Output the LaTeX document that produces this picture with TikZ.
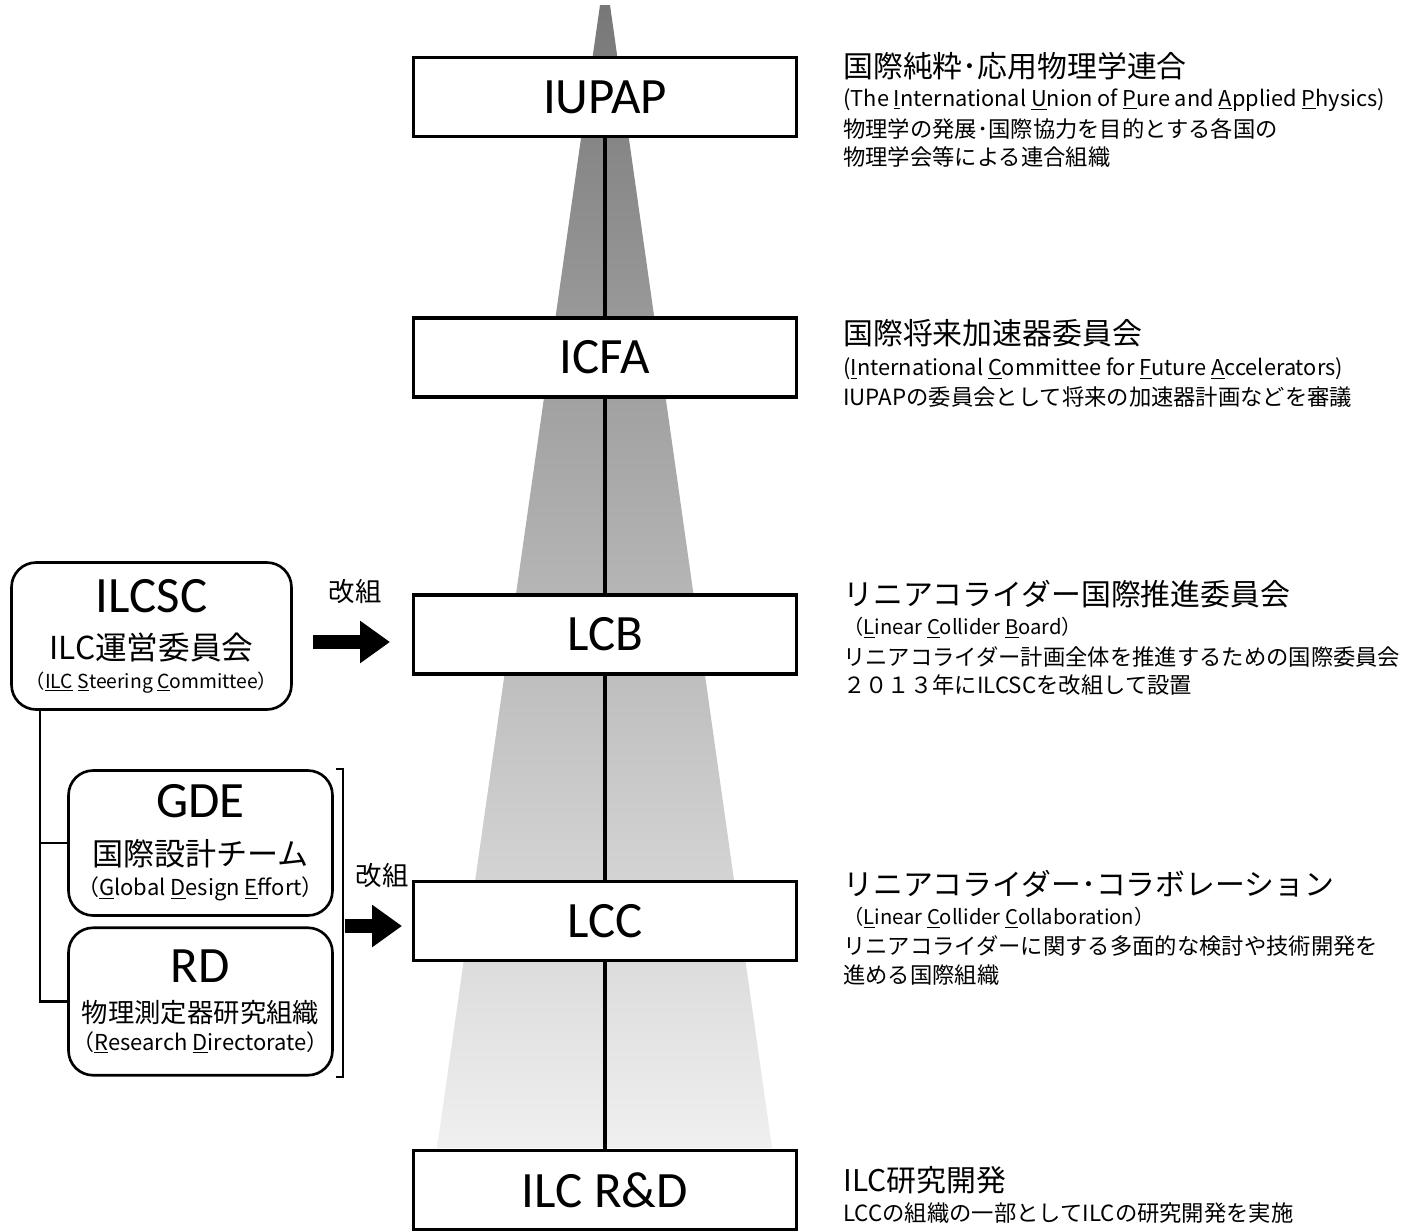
\documentclass[tikz,border=0pt]{standalone}
\usepackage{fontspec}
\setmainfont{Carlito}
\newfontfamily\jp{Noto Sans CJK JP}
\usetikzlibrary{arrows.meta}
\usetikzlibrary{positioning}

\begin{document}
\begin{tikzpicture}[x=0.02cm, y=-0.02cm,
      org/.style={shape=rectangle, draw, line width=2pt, fill=white,
        minimum width=7.66cm, minimum height=1.58cm, inner sep=0pt,
        font=\fontsize{29}{32}\selectfont},
      old/.style={shape=rectangle, draw, line width=1.5pt, rounded corners=14pt,
        fill=white, align=center, inner sep=0pt, font=\fontsize{12}{26}\selectfont},
      head/.style={anchor=west, inner sep=0pt, font=\jp\fontsize{17}{20}\selectfont},
      note/.style={anchor=west, inner sep=0pt, font=\jp\fontsize{12.7}{16}\selectfont},
      eng/.style={note, font=\jp\fontsize{12.4}{15}\selectfont},
      engw/.style={note, font=\jp\fontsize{11.5}{14}\selectfont},
      reorg/.style={line width=8pt, -{Triangle[length=17pt, width=23pt]}},
      tree/.style={line width=1.2pt}]
      \useasboundingbox (0,0) rectangle (1420,1231);
      \shade[top color=black!53, bottom color=black!6]
        (600,5) -- (610,5) -- (772,1148) -- (437,1148) -- cycle;

      \node[org] (iupap) at (605,97) {IUPAP};
      \node[org] (icfa) at (605,357.5) {ICFA};
      \node[org] (lcb) at (605,634.5) {LCB};
      \node[org] (lcc) at (605,921) {LCC};
      \node[org] (rnd) at (605,1190) {ILC R\&D};
      \draw[line width=2.3pt] (iupap) -- (icfa) -- (lcb) -- (lcc) -- (rnd);

      \node[old, minimum width=5.6cm, minimum height=2.94cm] (ilcsc) at (151.5,636)
        {{\fontsize{29}{32}\selectfont ILCSC}\\[1.2pt]
         {\jp\fontsize{18}{20}\selectfont ILC運営委員会}\\[-10pt]
         {\jp\fontsize{11}{13}\selectfont （\underline{ILC} \underline{S}teering \underline{C}ommittee）}};
      \node[old, minimum width=5.28cm, minimum height=2.9cm] (gde) at (200.5,843)
        {{\fontsize{29}{32}\selectfont GDE}\\[1.2pt]
         {\jp\fontsize{17.7}{20}\selectfont 国際設計チーム}\\[-9pt]
         {\jp\fontsize{12.5}{14}\selectfont （\underline{G}lobal \underline{D}esign \underline{E}ffort）}};
      \node[old, minimum width=5.28cm, minimum height=2.95cm] (rd) at (200.5,1001.5)
        {{\fontsize{29}{32}\selectfont RD}\\[-3pt]
         {\jp\fontsize{15}{18}\selectfont 物理測定器研究組織}\\[-10.2pt]
         {\jp\fontsize{12.5}{14}\selectfont （\underline{R}esearch \underline{D}irectorate）}};

      \coordinate (trunk) at (40,711);
      \draw[tree] (trunk) |- (rd.west);
      \draw[tree] (trunk |- gde.west) -- (gde.west);
      \draw[line width=0.8pt] (336,769) -- (343,769) -- (343,1077) -- (336,1077);

      \coordinate (from1) at (313,642);
      \coordinate (to1) at (390,642);
      \draw[reorg] (from1) -- (to1);
      \node[font=\jp\fontsize{15}{18}\selectfont] (re1) at (355,592) {改組};
      \coordinate (from2) at (345,926);
      \coordinate (to2) at (402,926);
      \draw[reorg] (from2) -- (to2);
      \node[font=\jp\fontsize{15}{18}\selectfont] (re2) at (382,876) {改組};

      \node[head] (iupap0) at (843,66) {国際純粋･応用物理学連合};
      \node[eng] (iupap1) at (843,100) {(The \underline{I}nternational \underline{U}nion of \underline{P}ure and \underline{A}pplied \underline{P}hysics)};
      \node[note] (iupap2) at (843,129) {物理学の発展･国際協力を目的とする各国の};
      \node[note] (iupap3) at (843,157) {物理学会等による連合組織};

      \node[head] (icfa0) at (843,333) {国際将来加速器委員会};
      \node[eng] (icfa1) at (843,369) {(\underline{I}nternational \underline{C}ommittee for \underline{F}uture \underline{A}ccelerators)};
      \node[note] (icfa2) at (843,397) {IUPAPの委員会として将来の加速器計画などを審議};

      \node[head] (lcb0) at (843,594) {リニアコライダー国際推進委員会};
      \node[engw] (lcb1) at (843,628) {（\underline{L}inear \underline{C}ollider \underline{B}oard）};
      \node[note] (lcb2) at (843,657) {リニアコライダー計画全体を推進するための国際委員会};
      \node[note] (lcb3) at (843,685) {２０１３年にILCSCを改組して設置};

      \node[head] (lcc0) at (843,884) {リニアコライダー･コラボレーション};
      \node[engw] (lcc1) at (843,918) {（\underline{L}inear \underline{C}ollider \underline{C}ollaboration）};
      \node[note] (lcc2) at (843,946) {リニアコライダーに関する多面的な検討や技術開発を};
      \node[note] (lcc3) at (843,975) {進める国際組織};

      \node[head] (rnd0) at (843,1180) {ILC研究開発};
      \node[note] (rnd1) at (843,1213) {LCCの組織の一部としてILCの研究開発を実施};
    \end{tikzpicture}
\end{document}
